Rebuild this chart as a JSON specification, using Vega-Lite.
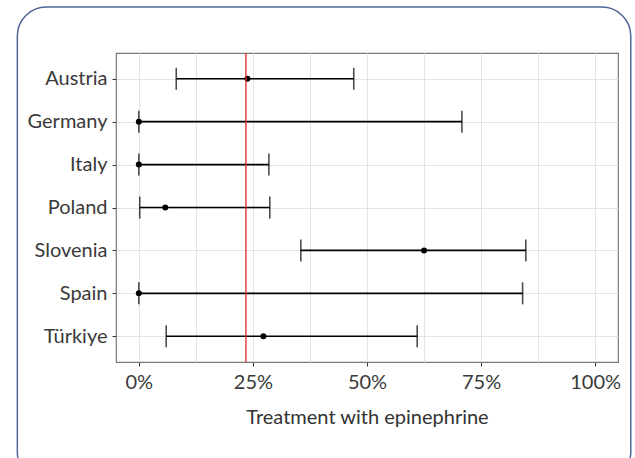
{
  "$schema": "https://vega.github.io/schema/vega-lite/v6.json",
  "width": 502,
  "height": 309,
  "autosize": "none",
  "padding": {"left": 116, "top": 53, "right": 17, "bottom": 96},
  "background": "white",
  "config": {
    "font": "Lato, Roboto, sans-serif",
    "view": {"stroke": "#7a7a7a", "strokeWidth": 1.2},
    "axis": {
      "domain": false,
      "grid": true,
      "gridColor": "#e4e4e4",
      "gridWidth": 1.1,
      "tickColor": "#333333",
      "tickSize": 4,
      "labelColor": "#3a3a3a",
      "labelFontSize": 20,
      "titleColor": "#333333",
      "titleFontSize": 20,
      "titleFontWeight": "normal"
    }
  },
  "layer": [
    {
      "data": {"values": [{"frame": "box"}]},
      "mark": {"type": "rect", "fill": null, "fillOpacity": 0, "stroke": "#4f6897", "strokeWidth": 1.5, "cornerRadius": 29, "clip": false},
      "encoding": {
        "x": {"datum": -0.2662, "type": "quantitative", "scale": {"domain": [-0.05, 1.05], "nice": false, "zero": false}},
        "x2": {"datum": 1.078},
        "y": {"datum": 1.149, "type": "quantitative", "scale": {"domain": [0, 1], "nice": false, "zero": false}, "axis": null},
        "y2": {"datum": -0.385}
      }
    },
    {
      "data": {"values": [
        {"country": "Austria", "estimate": 0.238, "lower": 0.082, "upper": 0.471},
        {"country": "Germany", "estimate": 0.0, "lower": 0.0, "upper": 0.708},
        {"country": "Italy", "estimate": 0.0, "lower": 0.0, "upper": 0.285},
        {"country": "Poland", "estimate": 0.058, "lower": 0.002, "upper": 0.287},
        {"country": "Slovenia", "estimate": 0.625, "lower": 0.355, "upper": 0.848},
        {"country": "Spain", "estimate": 0.0, "lower": 0.0, "upper": 0.841},
        {"country": "Türkiye", "estimate": 0.273, "lower": 0.06, "upper": 0.61}
      ]},
      "encoding": {
        "y": {
          "field": "country",
          "type": "nominal",
          "sort": null,
          "scale": {"type": "point", "padding": 0.6},
          "axis": {"title": null, "grid": true, "labelPadding": 5}
        }
      },
      "layer": [
        {
          "mark": {"type": "rule", "color": "black", "strokeWidth": 1.6},
          "encoding": {
            "x": {
              "field": "lower",
              "type": "quantitative",
              "scale": {"domain": [-0.05, 1.05], "nice": false, "zero": false},
              "axis": {
                "title": "Treatment with epinephrine",
                "grid": true,
                "values": [0, 0.125, 0.25, 0.375, 0.5, 0.625, 0.75, 0.875, 1],
                "format": ".0%",
                "labelExpr": "(datum.value * 4) % 1 == 0 ? datum.label : ''",
                "tickOpacity": {"condition": {"test": "(datum.value * 4) % 1 == 0", "value": 1}, "value": 0},
                "labelPadding": 6,
                "titlePadding": 15
              }
            },
            "x2": {"field": "upper"}
          }
        },
        {
          "mark": {"type": "tick", "color": "black", "thickness": 1.6, "size": 22},
          "encoding": {"x": {"field": "lower", "type": "quantitative"}}
        },
        {
          "mark": {"type": "tick", "color": "black", "thickness": 1.6, "size": 22},
          "encoding": {"x": {"field": "upper", "type": "quantitative"}}
        },
        {
          "mark": {"type": "point", "filled": true, "color": "black", "opacity": 1, "size": 36},
          "encoding": {"x": {"field": "estimate", "type": "quantitative"}}
        }
      ]
    },
    {
      "data": {"values": [{"reference": 0.2347}]},
      "mark": {"type": "rule", "color": "#e3262a", "strokeWidth": 1.3},
      "encoding": {"x": {"field": "reference", "type": "quantitative"}}
    }
  ],
  "resolve": {"scale": {"y": "independent"}}
}
